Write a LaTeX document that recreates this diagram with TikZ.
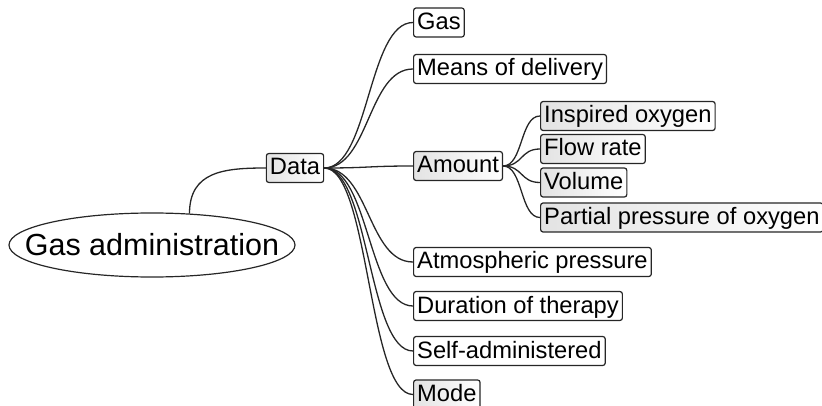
\documentclass[tikz,border=0pt]{standalone}
\usepackage{fontspec}
\setmainfont{Liberation Sans}
\usetikzlibrary{shapes.geometric}
\begin{document}
\begin{tikzpicture}[x=1pt,y=-1pt,
  link/.style={draw=black!85,line width=1.3pt},
  topic/.style={draw=black!85,line width=1.2pt,rounded corners=2.5pt,fill=white,
    font=\fontsize{23.7}{26}\selectfont,text height=18.5pt,text depth=4.5pt,
    inner xsep=3.6pt,inner ysep=3pt,anchor=west},
  shaded/.style={topic,left color=black!11,right color=white},
  central/.style={ellipse,draw=black!85,line width=1.2pt,inner sep=0pt,
    minimum width=286pt,minimum height=64pt,font=\fontsize{30.5}{34}\selectfont}]
\useasboundingbox (0,0) rectangle (822,406);

% root and first level
\node[central] (root) at (152,245) {\makebox[0pt][c]{Gas administration}};
\node[shaded,anchor=center] (data) at (295,168) {Data};

% children of Data
\node[topic]  (gas)   at (413,22.5) {Gas};
\node[topic]  (means) at (413,69)   {Means of delivery};
\node[shaded] (amount) at (413,166) {Amount};
\node[topic]  (atmo)  at (413,262)  {Atmospheric pressure};
\node[topic]  (dur)   at (413,306)  {Duration of therapy};
\node[topic]  (self)  at (413,351)  {Self-administered};
\node[shaded] (mode)  at (413,394.5) {Mode};

% children of Amount
\node[shaded] (insp) at (540,116)   {Inspired oxygen};
\node[shaded] (flow) at (540,149)   {Flow rate};
\node[shaded] (vol)  at (540,182.5) {Volume};
\node[shaded] (part) at (540,217.5) {Partial pressure of oxygen};

% connectors
\draw[link] (root.40) .. controls +(0,-42) and +(-42,0) .. (data.west);
\foreach \c in {gas,means,amount,atmo,dur,self,mode}
  \draw[link] (data.east) .. controls +(45,0) and +(-45,0) .. (\c.west);
\foreach \c in {insp,flow,vol,part}
  \draw[link] (amount.east) .. controls +(20,0) and +(-20,0) .. (\c.west);
\end{tikzpicture}
\end{document}
